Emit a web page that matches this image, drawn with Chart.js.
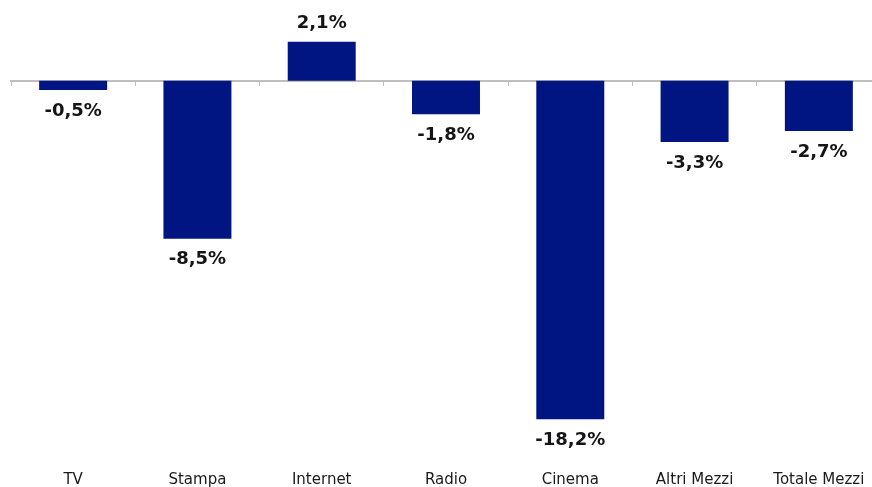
<!DOCTYPE html>
<html>
<head>
<meta charset="utf-8">
<script src="https://cdn.jsdelivr.net/npm/chart.js@4/dist/chart.umd.min.js"></script>
<style>
  html, body { margin: 0; padding: 0; background: #ffffff; overflow: hidden; }
  #wrap { width: 882px; height: 488px; }
</style>
</head>
<body>
<div id="wrap"><canvas id="c" width="882" height="488"></canvas></div>
<script>
const categories = ["TV", "Stampa", "Internet", "Radio", "Cinema", "Altri Mezzi", "Totale Mezzi"];
const values = [-0.5, -8.5, 2.1, -1.8, -18.2, -3.3, -2.7];

const barColor = '#001582';
const axisColor = '#bfbfbf';

const valueLabels = {
  id: 'valueLabels',
  afterDatasetsDraw(chart) {
    const ctx = chart.ctx;
    const meta = chart.getDatasetMeta(0);
    ctx.save();
    ctx.font = 'bold 18px "DejaVu Sans"';
    ctx.fillStyle = '#151515';
    ctx.textAlign = 'center';
    ctx.textBaseline = 'middle';
    meta.data.forEach((el, i) => {
      const v = chart.data.datasets[0].data[i];
      const txt = v.toFixed(1).replace('.', ',') + '%';
      const y = v >= 0 ? el.y - 18 : el.y + 21;
      ctx.fillText(txt, el.x, y);
    });
    ctx.restore();
  }
};

new Chart(document.getElementById('c'), {
  type: 'bar',
  data: {
    labels: categories,
    datasets: [{
      data: values,
      backgroundColor: barColor,
      borderWidth: 0,
      barPercentage: 1,
      categoryPercentage: 0.547
    }]
  },
  options: {
    responsive: false,
    animation: false,
    devicePixelRatio: 1,
    layout: { padding: { left: 11, right: 1, top: 25, bottom: 0 } },
    plugins: { legend: { display: false }, tooltip: { enabled: false } },
    scales: {
      y: { display: false, min: -19, max: 3 },
      x: {
        position: 'bottom',
        grid: { display: false, drawTicks: false },
        border: { display: false },
        ticks: {
          padding: 37,
          color: '#1a1a1a',
          font: { family: 'DejaVu Sans', size: 15 },
          maxRotation: 0,
          autoSkip: false
        },
        afterFit(scale) {
          scale.height = 54;
          scale.paddingLeft = 0;
          scale.paddingRight = 0;
        }
      },
      x2: {
        type: 'category',
        labels: categories,
        position: { y: 0 },
        z: 1,
        offset: true,
        grid: {
          offset: true,
          drawOnChartArea: false,
          drawTicks: true,
          tickLength: 4,
          color: axisColor,
          lineWidth: 1
        },
        border: { display: true, color: axisColor, width: 2 },
        ticks: { display: false }
      }
    }
  },
  plugins: [valueLabels]
});
</script>
</body>
</html>
